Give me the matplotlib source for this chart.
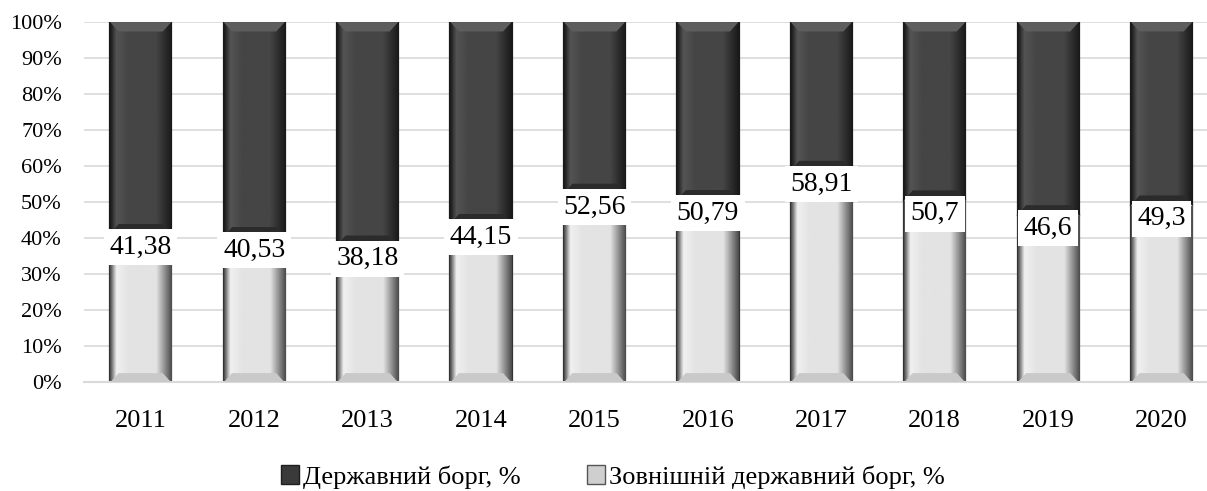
import matplotlib.pyplot as plt
import numpy as np
from matplotlib.patches import Polygon

plt.rcParams['font.family'] = ['Liberation Serif', 'DejaVu Serif']

years = ['2011', '2012', '2013', '2014', '2015', '2016', '2017', '2018', '2019', '2020']
external = [41.38, 40.53, 38.18, 44.15, 52.56, 50.79, 58.91, 50.7, 46.6, 49.3]
state = [100 - v for v in external]
labels = ['41,38', '40,53', '38,18', '44,15', '52,56', '50,79', '58,91', '50,7', '46,6', '49,3']

name_state = 'Державний борг, %'
name_ext = 'Зовнішній державний борг, %'


def shade_bar(ax, rect, base, edge, hi):
    # horizontal gradient + bevel at top and bottom
    x0, y0 = rect.get_x(), rect.get_y()
    w, h = rect.get_width(), rect.get_height()
    t = np.linspace(0, 1, 80)
    prof = np.full_like(t, base)
    left = t < 0.1
    prof[left] = edge + (hi - edge) * t[left] / 0.1
    mid = (t >= 0.1) & (t < 0.3)
    prof[mid] = hi + (base - hi) * (t[mid] - 0.1) / 0.2
    right = t > 0.75
    prof[right] = base + (edge - base) * (t[right] - 0.75) / 0.25
    img = np.tile(prof, (2, 1))
    im = ax.imshow(img, cmap='gray', vmin=0, vmax=1, aspect='auto',
                   extent=(x0, x0 + w, y0, y0 + h), zorder=2, interpolation='bilinear')
    im.set_clip_path(rect)
    bev = min(2.6, h / 3)
    dx = w * 0.14
    top = Polygon([[x0, y0 + h], [x0 + w, y0 + h], [x0 + w - dx, y0 + h - bev], [x0 + dx, y0 + h - bev]],
                  closed=True, fc=str(min(1, base + 0.1)), ec='none', zorder=3)
    bot = Polygon([[x0, y0], [x0 + w, y0], [x0 + w - dx, y0 + bev], [x0 + dx, y0 + bev]],
                  closed=True, fc=str(max(0, base - 0.1)), ec='none', zorder=3)
    ax.add_patch(top)
    ax.add_patch(bot)


fig = plt.figure(figsize=(12.07, 4.91), dpi=100)
ax = fig.add_axes([0.0696, 0.221, 0.9304, 0.734])

x = np.arange(len(years))
w = 0.54
b_ext = ax.bar(x, external, w, color='#e4e4e4', edgecolor='#333333', lw=1.6, zorder=2, label=name_ext)
b_st = ax.bar(x, state, w, bottom=external, color='#434343', edgecolor='#1a1a1a', lw=1.6, zorder=2, label=name_state)

for r in b_ext:
    shade_bar(ax, r, 0.89, 0.3, 0.94)
for r in b_st:
    shade_bar(ax, r, 0.27, 0.1, 0.33)

for xi, v, s in zip(x, external, labels):
    ax.annotate(s, (xi, v), xytext=(0, -1), textcoords='offset points', ha='center', va='top',
                fontsize=20, zorder=5,
                bbox=dict(boxstyle='square,pad=0.2', fc='white', ec='none'))

ax.set_xlim(-0.5, 9.4)
ax.set_ylim(0, 100)
ax.set_yticks(np.arange(0, 101, 10))
ax.set_yticklabels([f'{v}%' for v in range(0, 101, 10)], fontsize=16)
ax.set_xticks(x)
ax.set_xticklabels(years, fontsize=19)
ax.tick_params(axis='both', length=0)
ax.tick_params(axis='y', pad=16)
ax.tick_params(axis='x', pad=20)
ax.grid(axis='y', color='#d9d9d9', lw=1.2, zorder=0)
ax.set_axisbelow(True)
for sp in ['top', 'right', 'left']:
    ax.spines[sp].set_visible(False)
ax.spines['bottom'].set_color('#d9d9d9')
ax.spines['bottom'].set_linewidth(1.5)

h1 = plt.Rectangle((0, 0), 1, 1, fc='#3a3a3a', ec='#1e1e1e')
h2 = plt.Rectangle((0, 0), 1, 1, fc='#cfcfcf', ec='#555555')
fig.legend([h1, h2], [name_state, name_ext], loc='center', bbox_to_anchor=(613 / 1207, 1 - 477 / 491),
           ncol=2, frameon=False, fontsize=19, handlelength=0.7, handleheight=0.7,
           handletextpad=0.15, columnspacing=2.5, borderpad=0)

fig.savefig('out.png', dpi=100)
